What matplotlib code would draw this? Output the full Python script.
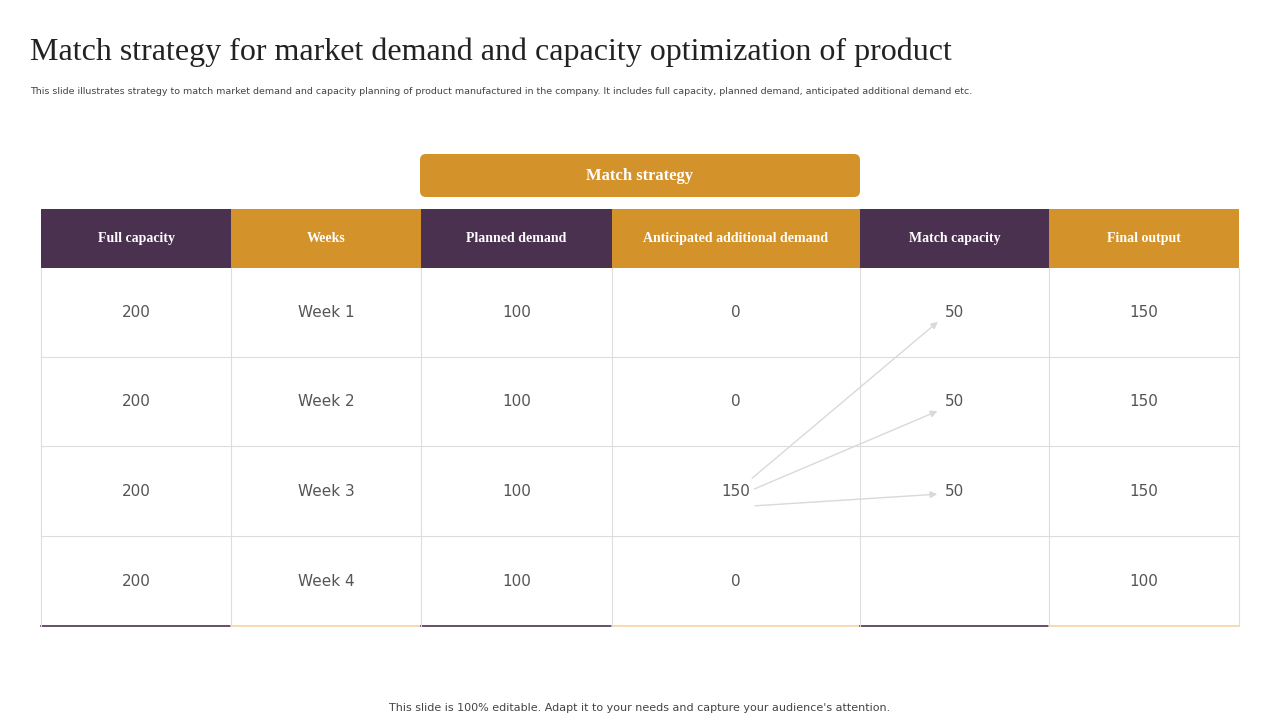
import matplotlib
matplotlib.use("Agg")
import matplotlib.pyplot as plt
from matplotlib.patches import Rectangle, FancyBboxPatch

headers = ["Full capacity", "Weeks", "Planned demand", "Anticipated additional demand", "Match capacity", "Final output"]
full_capacity = ["200", "200", "200", "200"]
weeks = ["Week 1", "Week 2", "Week 3", "Week 4"]
planned_demand = ["100", "100", "100", "100"]
anticipated = ["0", "0", "150", "0"]
match_capacity = ["50", "50", "50", ""]
final_output = ["150", "150", "150", "100"]
columns = [full_capacity, weeks, planned_demand, anticipated, match_capacity, final_output]

PURPLE = "#4B3150"
ORANGE = "#D4922B"
col_x = [41, 231, 421, 612, 860, 1049, 1239]
head_top, head_bot = 209, 268
row_y = [268, 357, 446, 536, 626]

fig = plt.figure(figsize=(12.8, 7.2), dpi=100)
ax = fig.add_axes([0, 0, 1, 1])
ax.set_xlim(0, 1280); ax.set_ylim(720, 0); ax.axis("off")

ax.text(30, 52, "Match strategy for market demand and capacity optimization of product",
        fontsize=23, family="Liberation Serif", color="#222222", va="center")
ax.text(30, 92, "This slide illustrates strategy to match market demand and capacity planning of product manufactured in the company. It includes full capacity, planned demand, anticipated additional demand etc.",
        fontsize=6.8, color="#444444", va="center")

ax.add_patch(FancyBboxPatch((420, 154), 440, 43, boxstyle="round,pad=0,rounding_size=6",
                            fc=ORANGE, ec="none"))
ax.text(640, 176, "Match strategy", fontsize=12, family="Liberation Serif", weight="bold",
        color="white", ha="center", va="center")

for i, h in enumerate(headers):
    c = PURPLE if i % 2 == 0 else ORANGE
    x0, x1 = col_x[i], col_x[i + 1]
    ax.add_patch(Rectangle((x0, head_top), x1 - x0, head_bot - head_top, fc=c, ec="none"))
    ax.text((x0 + x1) / 2, (head_top + head_bot) / 2, h, fontsize=10, family="Liberation Serif",
            weight="bold", color="white", ha="center", va="center")
    for r in range(4):
        ax.text((x0 + x1) / 2, (row_y[r] + row_y[r + 1]) / 2, columns[i][r], fontsize=11,
                color="#555555", ha="center", va="center")
    ax.plot([x0, x1], [row_y[-1], row_y[-1]], color=PURPLE if i % 2 == 0 else "#F3D3A6", lw=1.2)

for x in col_x:
    ax.plot([x, x], [head_bot, row_y[-1]], color="#DDDDDD", lw=0.8)
for y in row_y[1:-1]:
    ax.plot([col_x[0], col_x[-1]], [y, y], color="#DDDDDD", lw=0.8)

for (sx, sy), (ex, ey) in [((750, 480), (940, 320)), ((752, 490), (940, 410)), ((752, 506), (940, 494))]:
    ax.annotate("", xy=(ex, ey), xytext=(sx, sy),
                arrowprops=dict(arrowstyle="-|>", color="#D9D9D9", lw=1, mutation_scale=10))

ax.text(640, 708, "This slide is 100% editable. Adapt it to your needs and capture your audience's attention.",
        fontsize=8, color="#444444", ha="center", va="center")

fig.savefig("out.png", dpi=100)
